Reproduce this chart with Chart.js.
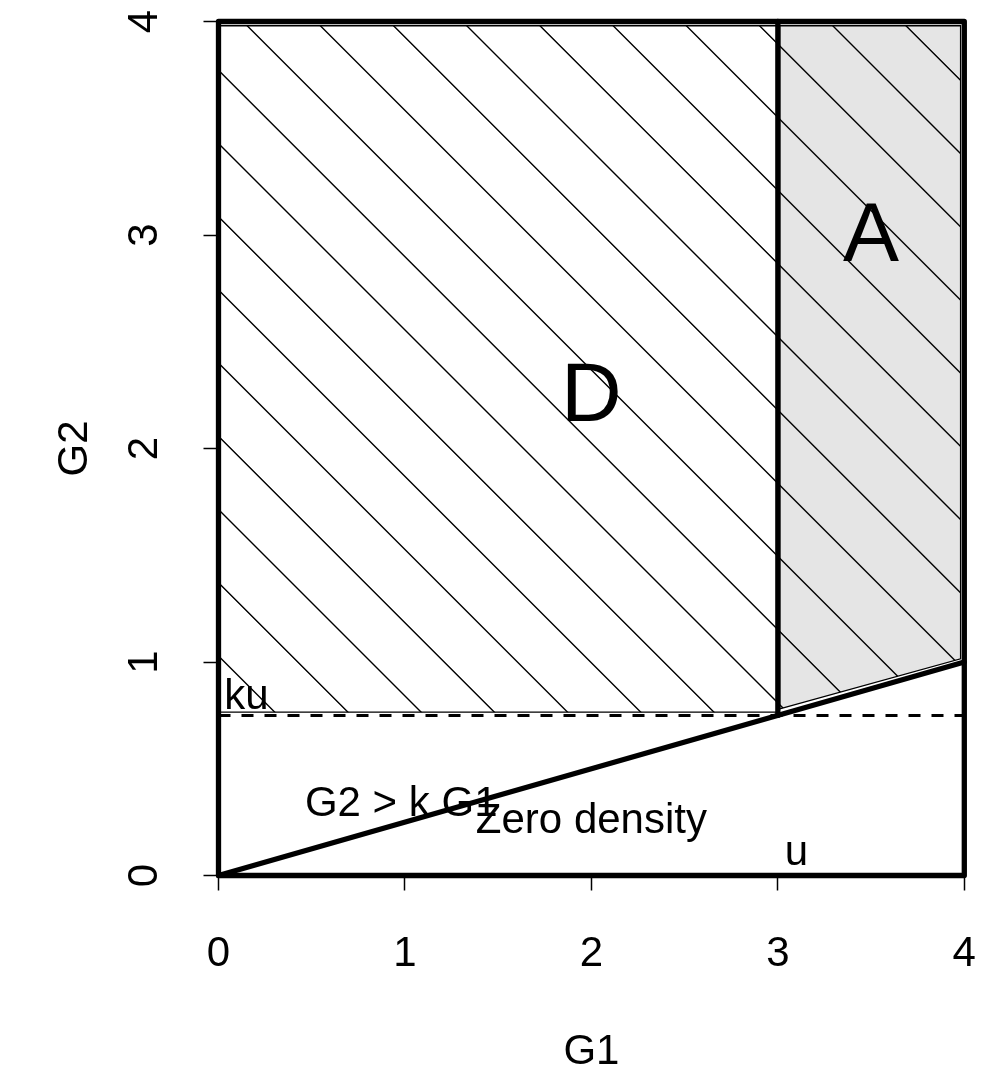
<!DOCTYPE html>
<html>
<head>
<meta charset="utf-8">
<script src="https://cdn.jsdelivr.net/npm/chart.js@4.4.1/dist/chart.umd.min.js"></script>
<style>
  html, body { margin: 0; padding: 0; background: #fff; }
  canvas { display: block; }
</style>
</head>
<body>
<canvas id="region" width="990" height="1078"></canvas>
<script>
// boundaries of the (G1, G2) region
const frameG1 = [0, 4, 4, 0, 0]
const frameG2 = [0, 0, 4, 4, 0]
const splitG1 = [3, 3]
const splitG2 = [0.75, 4]
const rayG1 = [0, 4] // G2 = k G1 with k = 0.25
const rayG2 = [0, 1]
const kuG1 = [0, 4]
const kuG2 = [0.75, 0.75]

// shaded regions D and A
const regionDG1 = [0, 3, 3, 0, 0]
const regionDG2 = [0.765, 0.765, 3.98, 3.98, 0.765]
const regionAG1 = [3.01, 3.98, 3.98, 3.01, 3.01]
const regionAG2 = [0.78, 1.015, 3.98, 3.98, 0.78]

const axisTicks = [0, 1, 2, 3, 4]

const labelText = ["D", "A", "Zero density", "G2 > k G1", "ku", "u"]
const labelG1 = [2, 3.5, 2, 0.98, 0.15, 3.1]
const labelG2 = [2.225, 2.975, 0.25, 0.33, 0.83, 0.1]
const labelCex = [2, 2, 1, 1, 1, 1]

const FONT = "'Liberation Sans', Arial, Helvetica, sans-serif"
const BASE = 42
const HATCH_STEP = 73.2

function pts(xs, ys) {
  return xs.map((x, i) => ({ x, y: ys[i] }))
}

function lineSet(xs, ys, width, extra) {
  return Object.assign({
    data: pts(xs, ys),
    borderColor: "#000",
    borderWidth: width,
    backgroundColor: "transparent",
    pointRadius: 0,
    fill: false,
    tension: 0,
    clip: false,
    borderCapStyle: "round",
    borderJoinStyle: "round",
  }, extra || {})
}

// diagonal hatching inside a closed dataset, anchored at the data origin
const hatchPlugin = {
  id: "hatch",
  afterDatasetDraw(chart, args) {
    const ds = chart.data.datasets[args.index]
    if (!ds.hatch) return
    const p = args.meta.data
    const { ctx } = chart
    const x0 = chart.scales.x.getPixelForValue(0)
    const y0 = chart.scales.y.getPixelForValue(0)
    const xs = p.map((e) => e.x)
    const ys = p.map((e) => e.y)
    const minX = Math.min(...xs), maxX = Math.max(...xs)
    const minY = Math.min(...ys), maxY = Math.max(...ys)
    ctx.save()
    ctx.beginPath()
    p.forEach((e, i) => (i ? ctx.lineTo(e.x, e.y) : ctx.moveTo(e.x, e.y)))
    ctx.closePath()
    ctx.clip()
    ctx.strokeStyle = "#000"
    ctx.lineWidth = 1.4
    const c0 = y0 - x0
    const cMin = minY - maxX, cMax = maxY - minX
    ctx.beginPath()
    for (let c = c0 + Math.ceil((cMin - c0) / HATCH_STEP) * HATCH_STEP; c <= cMax; c += HATCH_STEP) {
      ctx.moveTo(minX - 2, minX - 2 + c)
      ctx.lineTo(maxX + 2, maxX + 2 + c)
    }
    ctx.stroke()
    ctx.restore()
  },
}

// text annotations, placed like base graphics text()
const labelPlugin = {
  id: "labels",
  afterDatasetsDraw(chart) {
    const { ctx } = chart
    const sx = chart.scales.x, sy = chart.scales.y
    ctx.save()
    ctx.fillStyle = "#000"
    ctx.textAlign = "center"
    ctx.textBaseline = "alphabetic"
    labelText.forEach((t, i) => {
      const size = BASE * labelCex[i]
      ctx.font = `${size}px ${FONT}`
      ctx.fillText(t, sx.getPixelForValue(labelG1[i]), sy.getPixelForValue(labelG2[i]) + size * 0.25)
    })
    ctx.restore()
  },
}

// y tick labels run parallel to the axis
const yTickPlugin = {
  id: "yTicks",
  afterDraw(chart) {
    const { ctx } = chart
    const sy = chart.scales.y
    ctx.save()
    ctx.fillStyle = "#000"
    ctx.font = `${BASE}px ${FONT}`
    ctx.textAlign = "center"
    ctx.textBaseline = "alphabetic"
    for (const t of sy.ticks) {
      ctx.save()
      ctx.translate(157, sy.getPixelForValue(t.value))
      ctx.rotate(-Math.PI / 2)
      ctx.fillText(String(t.value), 0, 0)
      ctx.restore()
    }
    ctx.restore()
  },
}

const axisFont = { family: FONT, size: BASE }

new Chart(document.getElementById("region"), {
  type: "line",
  data: {
    datasets: [
      lineSet(frameG1, frameG2, 5.3),
      lineSet(splitG1, splitG2, 5.3),
      lineSet(rayG1, rayG2, 5.3),
      lineSet(kuG1, kuG2, 3, { borderDash: [12, 11], borderCapStyle: "butt" }),
      lineSet(regionAG1, regionAG2, 1.3, { backgroundColor: "#e5e5e5", fill: "shape", hatch: true, borderJoinStyle: "miter" }),
      lineSet(regionDG1, regionDG2, 1.3, { hatch: true, borderJoinStyle: "miter" }),
    ],
  },
  options: {
    responsive: false,
    animation: false,
    devicePixelRatio: 1,
    layout: { padding: { top: 21.5, right: 25.7, left: 0, bottom: 0 } },
    plugins: { legend: { display: false }, tooltip: { enabled: false } },
    scales: {
      x: {
        type: "linear",
        min: 0,
        max: 4,
        afterFit(s) {
          s.height = 202.5
          s.paddingLeft = 0
          s.paddingRight = 0
        },
        afterBuildTicks(s) { s.ticks = axisTicks.map((v) => ({ value: v })) },
        grid: { drawOnChartArea: false, drawTicks: true, tickLength: 15, tickWidth: 1.5, tickColor: "#000" },
        border: { display: true, color: "#000", width: 1.5 },
        ticks: { color: "#000", font: axisFont, padding: 39, maxRotation: 0, autoSkip: false },
        title: { display: true, text: "G1", color: "#000", font: axisFont, padding: { top: 0, bottom: 0 } },
      },
      y: {
        type: "linear",
        min: 0,
        max: 4,
        afterFit(s) {
          s.width = 218.5
          s.paddingTop = 0
          s.paddingBottom = 0
        },
        afterBuildTicks(s) { s.ticks = axisTicks.map((v) => ({ value: v })) },
        grid: { drawOnChartArea: false, drawTicks: true, tickLength: 15, tickWidth: 1.5, tickColor: "#000" },
        border: { display: true, color: "#000", width: 1.5 },
        ticks: { color: "rgba(0,0,0,0)", font: axisFont, padding: 8 },
        title: { display: true, text: "G2", color: "#000", font: axisFont, padding: { top: 50, bottom: 0 } },
      },
    },
  },
  plugins: [hatchPlugin, labelPlugin, yTickPlugin],
})
</script>
</body>
</html>
